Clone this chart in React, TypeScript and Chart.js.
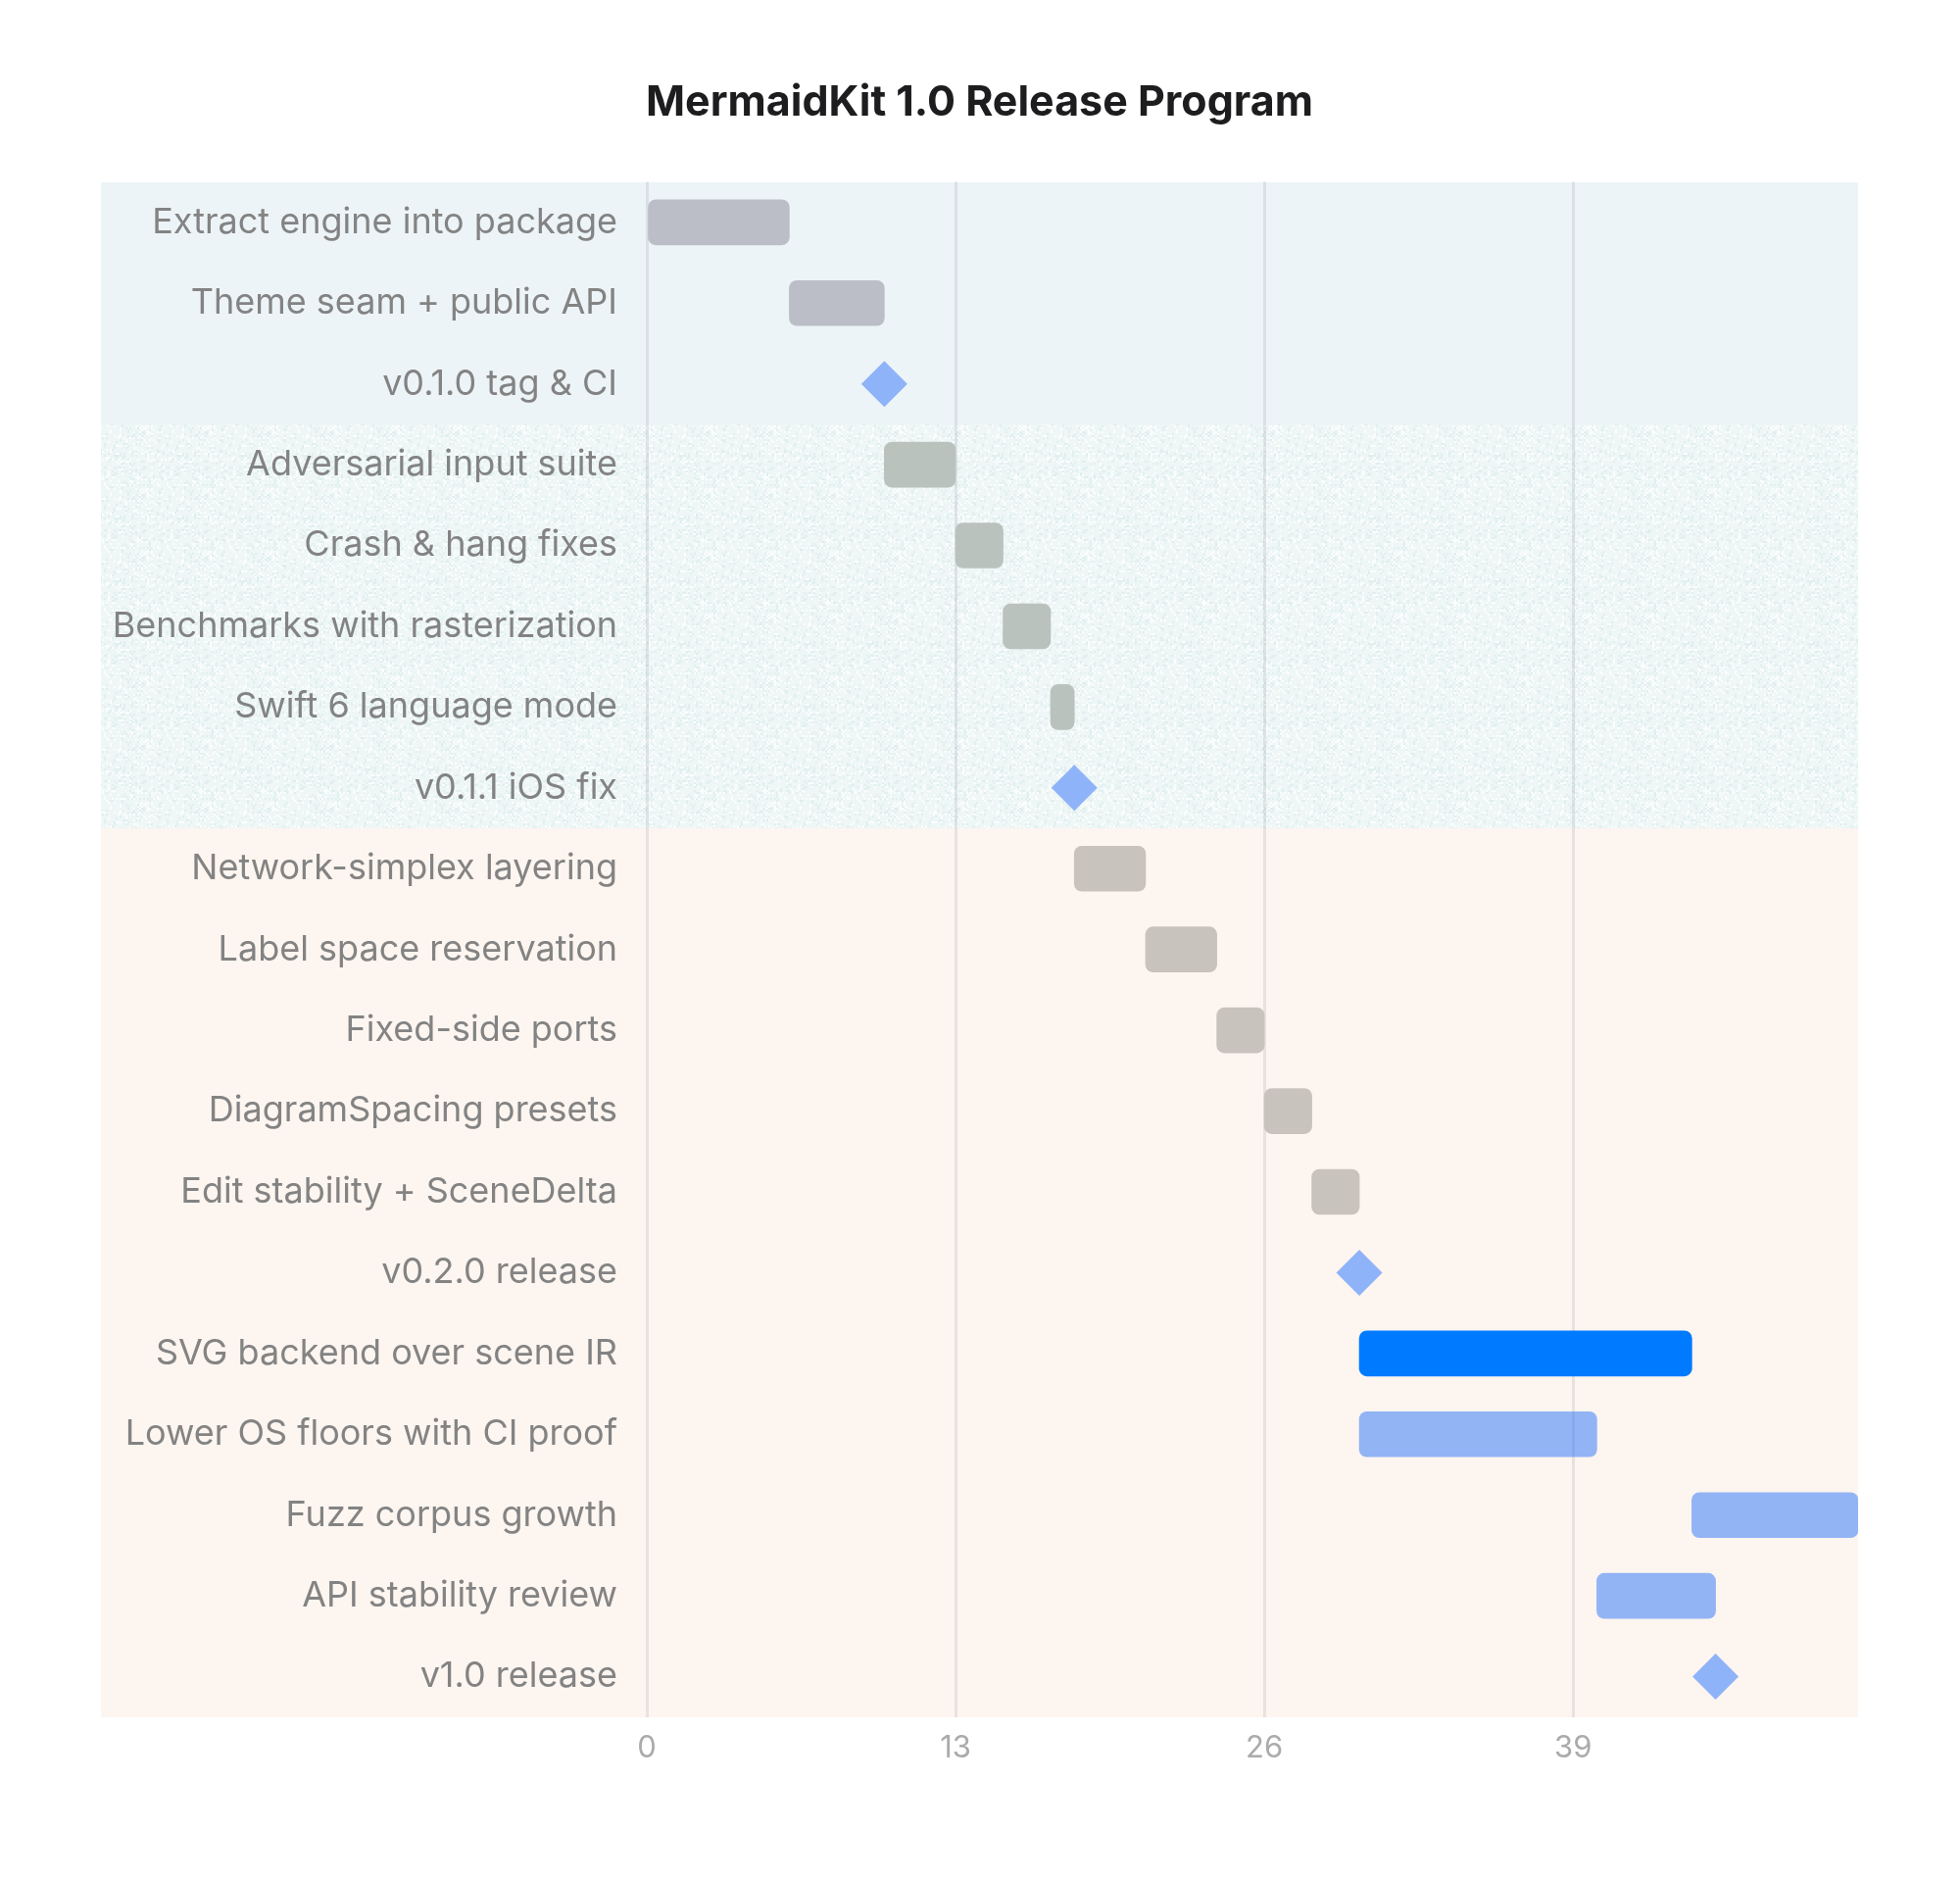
import { useEffect, useRef } from 'react';
import { Chart, registerables } from 'chart.js';

Chart.register(...registerables);

// Release schedule, in weeks from project start.
const chartTitle = 'MermaidKit 1.0 Release Program';

const tasks = [
  'Extract engine into package',
  'Theme seam + public API',
  'v0.1.0 tag & CI',
  'Adversarial input suite',
  'Crash & hang fixes',
  'Benchmarks with rasterization',
  'Swift 6 language mode',
  'v0.1.1 iOS fix',
  'Network-simplex layering',
  'Label space reservation',
  'Fixed-side ports',
  'DiagramSpacing presets',
  'Edit stability + SceneDelta',
  'v0.2.0 release',
  'SVG backend over scene IR',
  'Lower OS floors with CI proof',
  'Fuzz corpus growth',
  'API stability review',
  'v1.0 release',
];

const taskStart = [0, 6, null, 10, 13, 15, 17, null, 18, 21, 24, 26, 28, null, 30, 30, 44, 40, null];
const taskEnd = [6, 10, null, 13, 15, 17, 18, null, 21, 24, 26, 28, 30, null, 44, 40, 51, 45, null];
const milestoneAt = [null, null, 10, null, null, null, null, 18, null, null, null, null, null, 30, null, null, null, null, 45];

// 'done' | 'active' | 'planned'
const taskStatus = [
  'done', 'done', 'done',
  'done', 'done', 'done', 'done', 'done',
  'done', 'done', 'done', 'done', 'done', 'done',
  'active', 'planned', 'planned', 'planned', 'planned',
];

// Phase bands: first and last row of each phase.
const phaseFirstRow = [0, 3, 8];
const phaseLastRow = [2, 7, 18];
const phaseFill = ['#edf4f7', '#eef6f6', '#fdf5f0'];
const phaseGrain = [false, true, false];
const phaseDoneBar = ['#bbbec7', '#bac2be', '#c8c3bd'];

const activeColor = '#007aff';
const plannedColor = 'rgba(40, 115, 250, 0.5)';
const milestoneColor = '#8fb3f9';

const xTicks = [0, 13, 26, 39];
const xMin = 0;
const xMax = 51;

const FONT = 'Inter, "Noto Sans", "DejaVu Sans", sans-serif';

function phaseOf(row: number): number {
  for (let i = 0; i < phaseFirstRow.length; i++) {
    if (row >= phaseFirstRow[i] && row <= phaseLastRow[i]) return i;
  }
  return 0;
}

const barColors = tasks.map((_, i) => {
  const s = taskStatus[i];
  if (s === 'active') return activeColor;
  if (s === 'planned') return plannedColor;
  return phaseDoneBar[phaseOf(i)];
});

// Small speckled tile used as a paper-like grain on a band.
function grainPattern(ctx: CanvasRenderingContext2D, base: string): CanvasPattern | string {
  const size = 64;
  const tile = document.createElement('canvas');
  tile.width = size;
  tile.height = size;
  const t = tile.getContext('2d');
  if (!t) return base;
  t.fillStyle = base;
  t.fillRect(0, 0, size, size);
  for (let y = 0; y < size; y += 2) {
    for (let x = 0; x < size; x += 2) {
      let h = (x * 374761393 + y * 668265263) | 0;
      h = Math.imul(h ^ (h >>> 13), 1274126177);
      h = (h ^ (h >>> 16)) >>> 0;
      const v = h % 7;
      if (v === 0) {
        t.fillStyle = 'rgba(255,255,255,0.75)';
        t.fillRect(x, y, 2, 2);
      } else if (v === 1) {
        t.fillStyle = 'rgba(200,225,225,0.35)';
        t.fillRect(x, y, 2, 2);
      }
    }
  }
  const p = ctx.createPattern(tile, 'repeat');
  return p || base;
}

const phaseBands = {
  id: 'phaseBands',
  beforeDraw(chart: any) {
    const { ctx, chartArea, scales } = chart;
    const y = scales.y;
    const left = y.left;
    ctx.save();
    phaseFirstRow.forEach((first: number, i: number) => {
      const a = y.getPixelForValue(first - 0.5);
      const b = y.getPixelForValue(phaseLastRow[i] + 0.5);
      const top = Math.round(Math.min(a, b));
      const bottom = Math.round(Math.max(a, b));
      ctx.fillStyle = phaseGrain[i] ? grainPattern(ctx, phaseFill[i]) : phaseFill[i];
      ctx.fillRect(left, top, chartArea.right - left, bottom - top);
    });
    ctx.restore();
  },
};

export default function App() {
  const canvasRef = useRef<HTMLCanvasElement | null>(null);

  useEffect(() => {
    const canvas = canvasRef.current;
    if (!canvas) return;

    const barData = tasks.map((_, i) =>
      taskStart[i] === null || taskEnd[i] === null ? null : [taskStart[i], taskEnd[i]]
    );
    const milestoneData = tasks
      .map((t, i) => (milestoneAt[i] === null ? null : { x: milestoneAt[i], y: t }))
      .filter((p) => p !== null);

    const chart = new Chart(canvas, {
      type: 'bar',
      data: {
        labels: tasks,
        datasets: [
          {
            type: 'bar',
            data: barData as any,
            backgroundColor: barColors,
            borderWidth: 0,
            borderRadius: 8,
            borderSkipped: false,
            barThickness: 46,
            order: 2,
          },
          {
            type: 'scatter',
            data: milestoneData as any,
            pointStyle: 'rectRot',
            pointRadius: 23.5,
            pointHoverRadius: 23.5,
            backgroundColor: milestoneColor,
            borderWidth: 0,
            clip: false,
            order: 1,
          } as any,
        ],
      },
      options: {
        indexAxis: 'y',
        responsive: true,
        maintainAspectRatio: false,
        animation: false,
        events: [],
        layout: { padding: { left: 103, right: 104, top: 0, bottom: 102 } },
        plugins: {
          legend: { display: false },
          tooltip: { enabled: false },
          title: {
            display: true,
            text: chartTitle,
            color: '#1d1d1f',
            font: { family: FONT, size: 43, weight: 'bold' },
            padding: { top: 79, bottom: 55 },
          },
        },
        scales: {
          x: {
            type: 'linear',
            min: xMin,
            max: xMax,
            afterBuildTicks(scale: any) {
              scale.ticks = xTicks.map((v) => ({ value: v }));
            },
            grid: {
              display: true,
              drawTicks: false,
              color: 'rgba(60, 60, 90, 0.11)',
              lineWidth: 3,
            },
            border: { display: false },
            ticks: {
              color: '#ababab',
              padding: 13,
              font: { family: FONT, size: 31 },
              maxRotation: 0,
            },
          },
          y: {
            type: 'category',
            labels: tasks,
            offset: true,
            afterFit(scale: any) {
              scale.width = 557;
            },
            grid: { display: false, drawTicks: false },
            border: { display: false },
            ticks: {
              color: '#838383',
              padding: 30,
              font: { family: FONT, size: 36 },
              autoSkip: false,
            },
          },
        },
      },
      plugins: [phaseBands],
    });

    return () => chart.destroy();
  }, []);

  return (
    <div style={{ position: 'absolute', left: 0, top: 0, width: 2000, height: 1917, background: '#ffffff' }}>
      <canvas ref={canvasRef} />
    </div>
  );
}
